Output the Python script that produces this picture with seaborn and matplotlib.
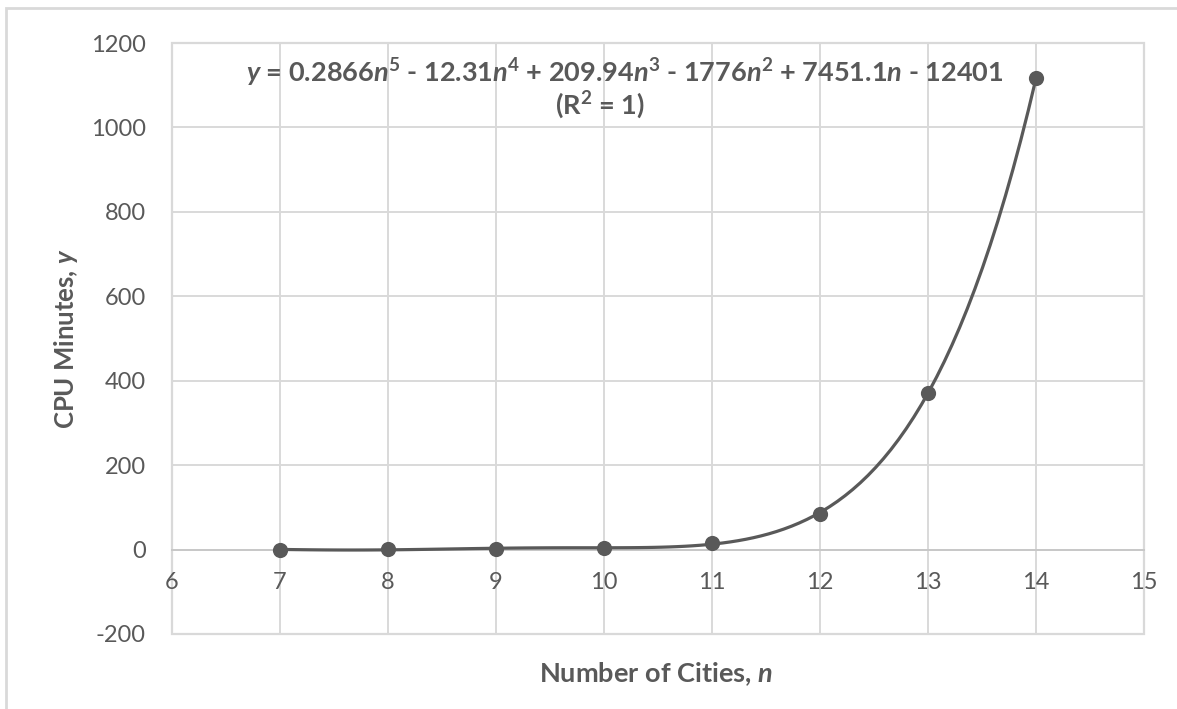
import numpy as np
import pandas as pd
import matplotlib
matplotlib.use("Agg")
import matplotlib.pyplot as plt
import seaborn as sns
from matplotlib.patches import Rectangle

# data
cities = [7, 8, 9, 10, 11, 12, 13, 14]
cpu_minutes = [0.15, 0.4, 1.5, 4.5, 15, 85, 372, 1116]
x_ticks = list(range(6, 16))
y_ticks = list(range(-200, 1201, 200))
coef_labels = ["0.2866", "12.31", "209.94", "1776", "7451.1", "12401"]

df = pd.DataFrame({"n": cities, "cpu": cpu_minutes})

sns.set_theme(style="white")
plt.rcParams["font.family"] = ["Lato", "DejaVu Sans"]
plt.rcParams["axes.unicode_minus"] = False
plt.rcParams["mathtext.fontset"] = "custom"
plt.rcParams["mathtext.rm"] = "Lato"
plt.rcParams["mathtext.it"] = "Lato:italic"
plt.rcParams["mathtext.bf"] = "Lato:bold"
plt.rcParams["mathtext.bfit"] = "Lato:bold:italic"

grey = "#595959"
light = "#d9d9d9"

fig = plt.figure(figsize=(11.77, 7.09), dpi=100)
ax = fig.add_axes([172 / 1177, 1 - 634 / 709, (1144 - 172) / 1177, (634 - 43) / 709])

sns.regplot(data=df, x="n", y="cpu", order=5, ci=None, truncate=True, ax=ax,
            scatter_kws=dict(s=120, color=grey, alpha=1, zorder=4, linewidths=0),
            line_kws=dict(color=grey, lw=2.3, zorder=3))

ax.set_xlim(6, 15)
ax.set_ylim(-200, 1200)
ax.set_xticks(x_ticks)
ax.set_yticks(y_ticks)
ax.set_axisbelow(True)
ax.grid(True, color=light, lw=1.4)

for s in ["left", "right", "top"]:
    ax.spines[s].set_visible(False)
ax.spines["bottom"].set_position(("data", 0))
ax.spines["bottom"].set_color("#c8c8c8")
ax.spines["bottom"].set_linewidth(1.4)
ax.add_patch(Rectangle((0, 0), 1, 1, transform=ax.transAxes, fill=False,
                       ec=light, lw=1.6, clip_on=False, zorder=0))

ax.tick_params(axis="x", length=0, pad=16, labelsize=17, labelcolor=grey)
ax.tick_params(axis="y", length=0, pad=19, labelsize=17, labelcolor=grey)

ax.set_xlabel(r"Number of Cities, $\mathbfit{n}$", fontsize=19.5, fontweight="bold", color=grey)
ax.set_ylabel(r"CPU Minutes, $\mathbfit{y}$", fontsize=18.5, fontweight="bold", color=grey)
ax.xaxis.set_label_coords(0.498, -0.045)
ax.yaxis.set_label_coords(-0.095, 0.5)

c = coef_labels
eq = (r"$\mathbfit{y}$ = " + c[0] + r"$\mathbfit{n}^{\mathbf{5}}$ - " + c[1]
      + r"$\mathbfit{n}^{\mathbf{4}}$ + " + c[2] + r"$\mathbfit{n}^{\mathbf{3}}$ - " + c[3]
      + r"$\mathbfit{n}^{\mathbf{2}}$ + " + c[4] + r"$\mathbfit{n}$ - " + c[5])
ax.text(0.466, 0.949, eq, transform=ax.transAxes, ha="center", va="center",
        fontsize=19.5, fontweight="bold", color=grey)
ax.text(0.440, 0.895, r"(R$^{\mathbf{2}}$ = 1)", transform=ax.transAxes, ha="center",
        va="center", fontsize=19.5, fontweight="bold", color=grey)

# outer chart frame (cropped on right and bottom)
fig.add_artist(Rectangle((6 / 1177, -0.1), 1.2, 1 - 8 / 709 + 0.1, transform=fig.transFigure,
                         fill=False, ec=light, lw=2))

fig.savefig("out.png", dpi=100)
